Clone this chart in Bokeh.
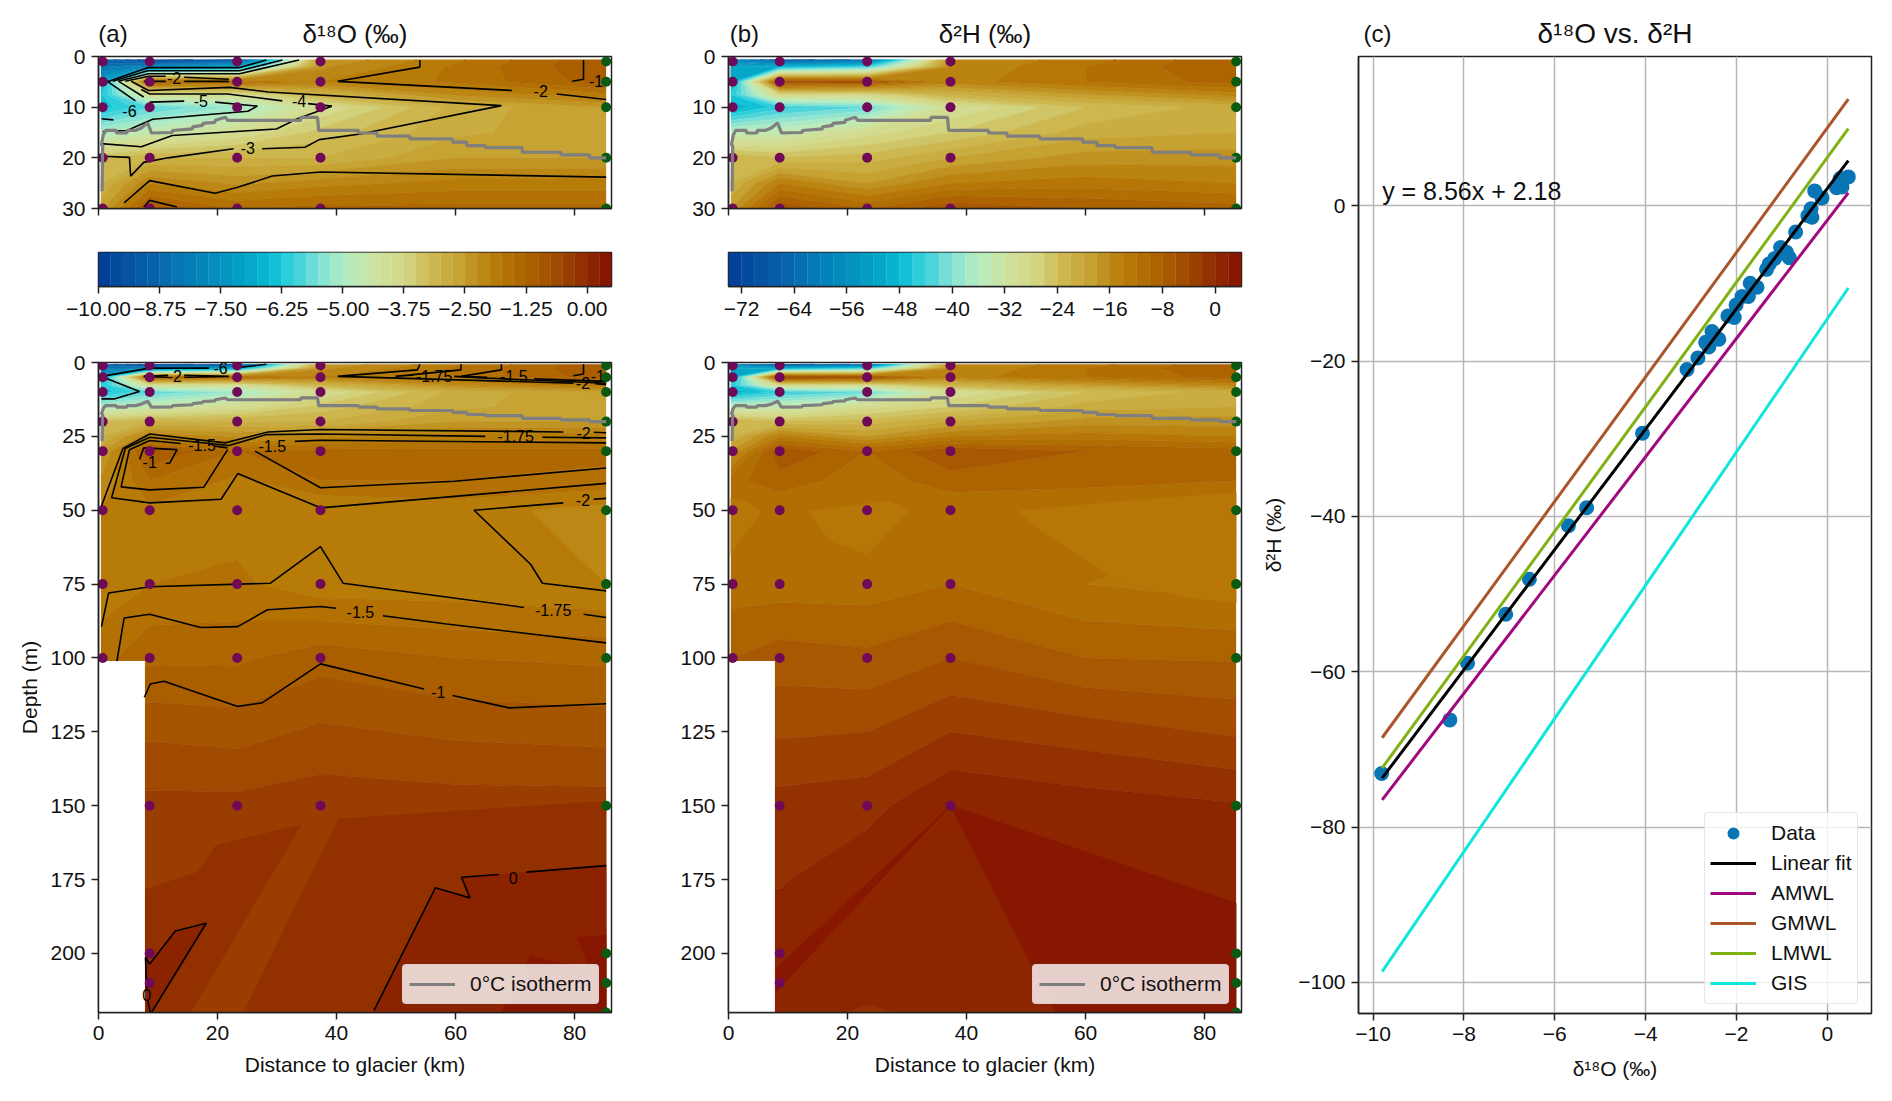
import numpy as np
from bokeh.embed import file_html
from bokeh.resources import INLINE
from bokeh.plotting import figure
from bokeh.layouts import row, column
from bokeh.models import Range1d, FixedTicker, Label, Legend, LegendItem, LinearAxis
from bokeh.core.properties import value

FONT = "Liberation Sans"

# ---------- gridded fields ----------
grid_x = [0.4, 8.6, 23.3, 37.3, 60.0, 85.3]
grid_y = [0.6, 2, 5, 7.5, 10, 15, 20, 25, 30, 40, 50, 75, 100, 125, 150, 175, 200, 210, 220]

d18O = [
    [-9.0, -10.0, -9.5, -2.5, -1.8, -1.0],
    [-8.5, -8.0, -7.0, -2.3, -1.7, -1.0],
    [-7.0, -1.3, -1.5, -2.0, -1.7, -1.1],
    [-6.3, -4.0, -4.0, -3.0, -2.2, -1.8],
    [-6.4, -5.8, -5.2, -4.0, -2.9, -2.5],
    [-5.0, -4.6, -4.0, -3.4, -2.8, -2.6],
    [-3.3, -3.0, -3.0, -3.0, -2.5, -2.5],
    [-3.0, -2.0, -2.3, -2.1, -1.9, -1.9],
    [-2.6, -1.0, -1.5, -1.4, -1.4, -1.4],
    [-2.2, -1.5, -1.8, -1.5, -1.5, -1.6],
    [-2.0, -1.8, -1.85, -2.0, -1.9, -2.1],
    [-1.9, -1.75, -1.7, -1.9, -1.9, -2.0],
    [-1.6, -1.3, -1.3, -1.1, -1.25, -1.3],
    [-0.8, -0.8, -0.85, -0.7, -0.8, -0.85],
    [-0.42, -0.42, -0.42, -0.35, -0.38, -0.38],
    [-0.3, -0.3, -0.3, -0.3, -0.3, -0.3],
    [-0.3, -0.3, -0.3, -0.3, -0.3, -0.3],
    [-0.3, -0.3, -0.3, -0.3, -0.3, -0.3],
    [-0.3, -0.3, -0.3, -0.3, -0.3, -0.3],
]

a_deep_bands = [
    (39, [7.8, 16.6, 19.8, 34.0, 15.5, 7.8], [178.4, 172.5, 163.4, 156.5, 220, 220]),
    (39, [40.3, 85.3, 85.3, 24.4], [154.5, 148.5, 220, 220]),
    (40, [46.3, 56.6, 62.4, 61.0, 67.3, 85.3, 85.3], [220, 177.8, 181.2, 174.2, 173.3, 170.3, 220]),
    (40, [7.9, 8.6, 12.9, 18.1, 8.9, 7.9], [201.3, 203.6, 192.4, 189.8, 220, 220]),
    (41, [80.5, 85.3, 85.3, 67.7, 72.6, 77.0, 82.5], [194.6, 193.8, 220, 220, 200.8, 203, 205]),
]

d2H = [
    [-60, -70, -65, -16, -13, -8],
    [-52, -50, -45, -16, -12, -8],
    [-52, -5, -6, -15, -12, -9],
    [-46, -28, -28, -22, -18, -15],
    [-50, -45, -42, -30, -24, -21],
    [-35, -34, -29, -26, -21, -20],
    [-22, -24, -23, -20, -17, -17],
    [-22, -14, -18, -14, -13, -14],
    [-18, -6, -10, -6, -8, -9],
    [-10.5, -9, -11, -9, -9.5, -10],
    [-11.5, -11.5, -11.5, -11.5, -11.5, -11.5],
    [-11, -11, -11, -10, -12, -13],
    [-8, -7, -7.5, -6, -8, -8.2],
    [-4.3, -4.3, -4, -2, -3, -4.3],
    [-1.2, -1.2, -0.7, 1.9, 1.0, 0.2],
    [-0.2, -0.2, 1.5, 1.7, 1.9, 1.6],
    [1.4, 1.4, 1.0, 1.0, 1.9, 1.9],
    [1.7, 1.7, 0.9, 0.8, 1.9, 1.9],
    [1.0, 1.0, -0.3, 0.6, 1.5, 1.9],
]

b_bands = [
    (38, [37.3, 85.3, 85.3, 55.0], [150, 183, 220, 220]),
    (38, [37.3, 8.0, 8.0], [150, 205, 213]),
    (30, [13.6, 27.0, 30.3, 23.3, 17.0], [50.2, 46.8, 50.2, 64.9, 60.4]),
    (30, [48.7, 52.4, 66.0, 77.2, 85.3, 85.3, 67.0], [50.2, 57, 74.5, 79.6, 81.3, 44, 46.8]),
    (30, [0.4, 3.0, 5.6, 0.4], [46, 47, 50.2, 65]),
]

# ---------- sampling stations ----------
shallow_depths = [1, 5, 10, 20, 30, 50, 75, 100]
st_x = [0.7, 8.6, 23.3, 37.3]
st_depths = [shallow_depths,
             shallow_depths + [150, 200, 210],
             shallow_depths + [150],
             shallow_depths + [150]]
far_x = 85.3
far_depths = shallow_depths + [150, 200, 210, 220]

# ---------- bathymetry mask ----------
mask_left, mask_right, mask_top, mask_bottom = 0.0, 7.8, 101.0, 220.0

# ---------- 0 degC isotherm ----------
iso_x = [0.6, 0.7, 0.5, 0.8, 1.2, 3.0, 3.0, 4.8, 4.8, 6.2, 7.2, 8.25, 8.9, 12.4, 12.4, 15.8, 15.8, 17.5, 17.5, 19.6, 19.6,
         21.3, 21.7, 34.0, 34.0, 36.8, 37.0, 43.7, 43.7, 46.8, 46.8, 52.3, 52.3, 59.5, 59.5, 61.9, 61.9, 65.0, 65.0,
         71.2, 71.2, 77.7, 77.7, 82.5, 82.5, 85.3]
iso_y = [26.6, 17.6, 17.4, 15.5, 14.6, 14.6, 15.1, 15.1, 14.6, 14.6, 14.1, 13.1, 15.1, 15.0, 14.6, 14.3, 13.9, 13.6, 13.2, 13.0, 12.6,
         12.0, 12.6, 12.6, 12.0, 12.0, 14.6, 14.6, 15.1, 15.1, 15.7, 15.7, 16.25, 16.25, 16.9, 16.9, 17.6, 17.6, 18.0,
         18.0, 18.9, 18.9, 19.4, 19.4, 20.0, 20.0]

# ---------- contour lines, (a) upper panel (x, depth) ----------
top_lines = [
    [(1.5, 5), (8.25, 2.2), (23.6, 2.2), (28.2, 0.7)],
    [(2.4, 4.9), (8.25, 2.8), (23.7, 2.8), (30.9, 0.7)],
    [(3.3, 4.9), (8.4, 3.4), (23.7, 3.4), (33.7, 0.7)],
    [(4.5, 4.9), (8.4, 3.9), (11.3, 3.9)],
    [(14.4, 4.1), (21.9, 4.5)],
    [(7.6, 4.9), (11.3, 4.9)],
    [(14.4, 4.9), (21.9, 4.9)],
    [(0.7, 5), (1.5, 4.9), (6.2, 8.75)],
    [(3.4, 4.9), (7.6, 8.0)],
    [(5.5, 4.9), (8.4, 6.7), (22, 6.1), (28.5, 7), (67.7, 9.7), (44, 15.3), (37.1, 16.4), (34.7, 17.9), (27.5, 18.2)],
    [(22.7, 18.2), (11.7, 20), (7.6, 20.9), (5.4, 23.6), (5.2, 19.9), (0.7, 19.7)],
    [(7.2, 6.5), (8.6, 7.4), (21.7, 7.4), (30.9, 8.75)],
    [(35.2, 9.3), (39.2, 9.8), (33.4, 12.3), (29.9, 14.3), (12.4, 15.6), (7.2, 17.8), (0.4, 17.2)],
    [(8.6, 9), (14.4, 8.8)],
    [(19.6, 9), (26.7, 9.8), (25.1, 10.8), (9.1, 12.4), (4.8, 14.6), (0.7, 14.8)],
    [(0.5, 12.3), (2.5, 12.5)],
    [(54, 0.7), (54, 2.1), (40.2, 4.9), (69.5, 6.7)],
    [(77, 7.4), (85.3, 8.5)],
    [(81.5, 0.7), (81.5, 4.5), (79.6, 4.9)],
    [(85.3, 23.8), (37.3, 22.8), (29.2, 23.6), (23.4, 25.8), (19.6, 27), (8.6, 24.5), (4.3, 28.9)],
    [(7.6, 29.7), (8.6, 28.4), (13.2, 29.7)],
]
top_label_x = [12.7, 74.3, 33.7, 25.1, 83.6, 17.2, 5.2]
top_label_y = [4.3, 6.9, 8.75, 18.0, 4.9, 8.8, 10.7]
top_label_t = ["-2", "-2", "-4", "-3", "-1", "-5", "-6"]

# ---------- contour lines, (a) lower panel ----------
bot_lines = [
    [(0.5, 4.7), (8.6, 1.9), (18.6, 1.9)],
    [(22.7, 1.9), (28.2, 0.6)],
    [(0.5, 4.7), (6.9, 9.8), (2.75, 12.3), (0.5, 12.3)],
    [(7.6, 4.7), (11.7, 4.3)],
    [(7.6, 4.7), (11.7, 5.0)],
    [(14.4, 4.3), (21.9, 4.7), (14.4, 5.0)],
    [(54, 0.6), (53.6, 2.5), (40.2, 4.7), (79.8, 7)],
    [(83.5, 7.2), (85.3, 7.5)],
    [(60.9, 0.6), (60.9, 2.5), (49.9, 4.7), (53, 4.2)],
    [(59.8, 4.7), (65.3, 5.3), (85.3, 7)],
    [(67.7, 0.6), (67.7, 2.5), (60.9, 4.7), (65.3, 5)],
    [(73.2, 5.5), (85.3, 6.4)],
    [(81.5, 0.6), (81.5, 3.9), (79.8, 4.5)],
    [(85.3, 23.8), (83.2, 23.6)],
    [(78.1, 23.5), (37.3, 22.7), (28.5, 23.5), (21.3, 27.2), (8.6, 24.2), (4.1, 29.1), (0.5, 48.6)],
    [(85.3, 25.5), (74.6, 25.3)],
    [(65, 25), (37.3, 24.2), (28.2, 24.4), (21.9, 28.1), (8.6, 25.3), (4.5, 29.1), (2.2, 45.8), (8.6, 47.5), (20.6, 46.3),
     (23.4, 37.6), (37.3, 49.2), (85.3, 40.9)],
    [(85.3, 27.2), (37.3, 26.3), (33, 26.7)],
    [(26.3, 30), (37.3, 42.4), (59.8, 40.2), (85.3, 35.7)],
    [(21.7, 29.5), (17.7, 42.2), (8.6, 43.1), (3.8, 42.1), (5.2, 29.5), (8.6, 26.4), (13.8, 27.4)],
    [(19.6, 28.3), (21.7, 28.9)],
    [(6.9, 32.8), (7.6, 28.9), (13.2, 29.5), (12, 34), (11.3, 34.2)],
    [(85.3, 46), (83.2, 46.3)],
    [(78.1, 47.5), (63.1, 50), (72.6, 68.3), (74.6, 74.7), (85.3, 77.3)],
    [(0.5, 89.4), (1.7, 78), (8.6, 75.9), (28.9, 74.7), (37.3, 62.3), (41.1, 74.7), (71.5, 82.9)],
    [(81.5, 85.2), (85.3, 86.3)],
    [(3.1, 101.1), (4.3, 86.5), (8.6, 85.2), (17.2, 89.7), (23.4, 89.4), (28.4, 83.7), (37.3, 82.6), (39.9, 83.2)],
    [(47.8, 85.7), (58.5, 88.5), (85.3, 94.9)],
    [(7.7, 113.3), (8.7, 108.8), (11, 107.9), (23.4, 116.4), (27.5, 115.2), (37.3, 102), (54.7, 110.5)],
    [(59.5, 112.7), (69, 116.9), (85.3, 115.5)],
    [(46.3, 219.3), (56.6, 177.8), (62.4, 181.2), (61, 174.2), (67.3, 173.3)],
    [(71.9, 172.5), (85.3, 170.3)],
    [(7.9, 201.3), (8.6, 203.6), (12.9, 192.4), (18.1, 189.8), (8.9, 220)],
    [(7.9, 201.3), (8.1, 212)],
    [(8.3, 216), (8.7, 220)],
]
bot_label_x = [20.5, 12.8, 56.4, 69.8, 81.4, 83.9, 70.1, 81.5, 17.4, 29.2, 8.6, 81.4, 76.4, 44, 57.1, 69.7, 8.1]
bot_label_y = [1.9, 4.7, 4.7, 4.7, 7.0, 4.7, 25.0, 23.7, 27.9, 28.2, 33.6, 46.6, 83.9, 84.5, 111.5, 174.4, 214]
bot_label_t = ["-6", "-2", "-1.75", "-1.5", "-2", "-1", "-1.75", "-2", "-1.5", "-1.5", "-1", "-2", "-1.75", "-1.5", "-1", "0", "0"]

# ---------- panel (c) ----------
scatter_x = [-5.7, -5.3, -4.07, -3.09, -2.85, -2.61, -2.54, -2.39, -2.68, -2.19, -2.05, -2.01, -1.88, -1.74, -1.7, -1.55,
             -1.34, -1.28, -1.16, -1.03, -0.9, -0.84, -0.7, -0.43, -0.34, -0.36, -0.28, -0.12, 0.2, 0.32, 0.28, 0.46,
             -6.56, -7.08, -7.92, -8.31, -9.81]
scatter_y = [-41.2, -38.9, -29.3, -21.1, -19.6, -18.2, -16.2, -17.2, -17.6, -14.2, -14.4, -12.8, -11.7, -11.7, -10, -10.5,
             -8.2, -7.5, -6.8, -5.4, -6, -6.7, -3.4, -1.3, -1.5, -0.4, 1.9, 1, 2.3, 2.4, 3.5, 3.7,
             -48.1, -52.6, -58.9, -66.2, -73.1]
line_ends_x = [-9.8, 0.46]
fit_y = [-73.7, 5.8]
amwl_y = [-76.5, 1.65]
gmwl_y = [-68.5, 13.7]
lmwl_y = [-72.4, 9.9]
gis_y = [-98.6, -10.6]

# ---------- tick labels ----------
cb_a_ticks = [-10, -8.75, -7.5, -6.25, -5, -3.75, -2.5, -1.25, 0]
cb_a_labels = ["−10.00", "−8.75", "−7.50", "−6.25", "−5.00", "−3.75", "−2.50", "−1.25", "0.00"]
cb_b_ticks = [-72, -64, -56, -48, -40, -32, -24, -16, -8, 0]
cb_b_labels = ["−72", "−64", "−56", "−48", "−40", "−32", "−24", "−16", "−8", "0"]
c_x_ticks = [-10, -8, -6, -4, -2, 0]
c_x_labels = ["−10", "−8", "−6", "−4", "−2", "0"]
c_y_ticks = [0, -20, -40, -60, -80, -100]
c_y_labels = ["0", "−20", "−40", "−60", "−80", "−100"]

# ---------- colour map ----------
cmap_pos = [0, .05, .1, .15, .2, .25, .3, .34, .37, .4, .43, .476, .5, .55, .595, .65, .7, .714, .77, .833, .895, .952, 1]
cmap_hex = ["#033a97", "#05509f", "#065fa9", "#0674b3", "#0485bb", "#0495c0", "#05a9ca", "#0bbdd3", "#2ccfdb", "#50d5da",
            "#80e2d6", "#aeeac4", "#bcebb8", "#d0e09a", "#d4d888", "#cdb850", "#c7a535", "#c39c2c", "#b87c08", "#ad6400",
            "#a04800", "#8e2a00", "#851000"]


def make_palette(n):
    rgb = np.array([[int(h[i:i + 2], 16) for i in (1, 3, 5)] for h in cmap_hex], float)
    f = (np.arange(n) + 0.5) / n
    out = []
    for t in f:
        c = [int(round(np.interp(t, cmap_pos, rgb[:, k]))) for k in range(3)]
        out.append("#%02x%02x%02x" % tuple(c))
    return out


levels_a = list(np.arange(-10, 0.5001, 0.25))
levels_b = list(np.arange(-74, 4.001, 2.0))
pal_a = make_palette(len(levels_a) - 1)
pal_b = make_palette(len(levels_b) - 1)

AX = "#222222"
TICK = "21px"
XT = [0, 20, 40, 60, 80]


def style(p):
    for ax in p.axis:
        ax.axis_line_color = AX
        ax.axis_line_width = 1.5
        ax.major_tick_line_color = AX
        ax.major_tick_line_width = 1.5
        ax.major_tick_in = 0
        ax.major_tick_out = 7
        ax.minor_tick_line_color = None
        ax.major_label_standoff = 6
        ax.major_label_text_font = FONT
        ax.major_label_text_font_size = TICK
        ax.major_label_text_color = "#111111"
        ax.axis_label_text_font = FONT
        ax.axis_label_text_font_size = TICK
        ax.axis_label_text_font_style = "normal"
        ax.axis_label_text_color = "#111111"
    p.outline_line_color = AX
    p.outline_line_width = 1.5
    p.background_fill_color = "white"
    p.border_fill_color = "white"


def section(w, h, ymax, yticks, z, levels, pal, left, right, top, bottom, xlabels, ylabel=None):
    p = figure(width=left + w + right, height=top + h + bottom, output_backend="svg", toolbar_location=None,
               x_range=Range1d(0, 86.2), y_range=Range1d(ymax, 0), tools="")
    p.min_border_left, p.min_border_right, p.min_border_top, p.min_border_bottom = left, right, top, bottom
    p.grid.visible = False
    p.contour(grid_x, grid_y, np.array(z, float), levels, fill_color=pal, line_color=pal + [pal[-1]], line_width=0.8)
    p.xaxis.ticker = FixedTicker(ticks=XT)
    p.yaxis.ticker = FixedTicker(ticks=yticks)
    if not xlabels:
        p.xaxis.major_label_overrides = {t: "" for t in XT}
    else:
        p.xaxis.axis_label = "Distance to glacier (km)"
        p.xaxis.axis_label_standoff = 10
    if ylabel:
        p.yaxis.axis_label = ylabel
        p.yaxis.axis_label_standoff = 6
    style(p)
    return p


def add_bands(p, bands, pal):
    for k, xs, ys in bands:
        p.patch(xs, ys, fill_color=pal[k], line_color=pal[k], line_width=0.5)


def add_mask(p):
    p.quad(left=[mask_left], right=[mask_right], top=[mask_top], bottom=[mask_bottom], fill_color="white",
           line_color="white", line_width=0)


def add_stations(p):
    for xs, ds in zip(st_x, st_depths):
        p.scatter([xs] * len(ds), ds, size=10, fill_color="#700a58", line_color=None)
    p.scatter([far_x] * len(far_depths), far_depths, size=10, fill_color="#0b5a12", line_color=None)
    return p.line(iso_x, iso_y, line_color="#7f7f7f", line_width=3.2)


def add_lines(p, lines, lx, ly, lt):
    for seg in lines:
        p.line([a for a, _ in seg], [b for _, b in seg], line_color="black", line_width=1.6)
    p.text(lx, ly, text=lt, text_font=value(FONT), text_font_size="16px", text_align="center",
           text_baseline="middle", text_color="black")


def titles(p, tag_x, left_txt, centre_txt, size="26px"):
    # panel letter and title share one row: an unlined axis above the frame carries them
    ax = LinearAxis(ticker=FixedTicker(ticks=[tag_x]), major_label_overrides={tag_x: left_txt},
                    axis_label=centre_txt, axis_label_standoff=-32,
                    axis_line_color=None, major_tick_line_color=None, minor_tick_line_color=None,
                    major_tick_in=0, major_tick_out=0, major_label_standoff=10,
                    major_label_text_font=FONT, major_label_text_font_size="24px", major_label_text_color="#111111",
                    axis_label_text_font=FONT, axis_label_text_font_size=size, axis_label_text_font_style="normal",
                    axis_label_text_color="#111111")
    p.add_layout(ax, "above")


def colorbar(levels, pal, ticks, labels, left, w, right):
    p = figure(width=left + w + right, height=22 + 34 + 54, output_backend="svg", toolbar_location=None,
               x_range=Range1d(levels[0], levels[-1]), y_range=Range1d(0, 1), tools="")
    p.min_border_left, p.min_border_right, p.min_border_top, p.min_border_bottom = left, right, 22, 54
    p.grid.visible = False
    p.quad(left=levels[:-1], right=levels[1:], bottom=0, top=1, fill_color=pal, line_color=pal, line_width=0.3)
    p.xaxis.ticker = FixedTicker(ticks=ticks)
    p.xaxis.major_label_overrides = dict(zip(ticks, labels))
    p.yaxis.visible = False
    style(p)
    p.xaxis.major_label_standoff = 8
    return p


W = 513
LA, RA = 98, 65
LB, RB = 52, 17
LC, RC = 100, 12
TOP = 56
BOT = 72
YT1 = [0, 10, 20, 30]
YT2 = [0, 25, 50, 75, 100, 125, 150, 175, 200]

# (a)
a1 = section(W, 152, 30, YT1, d18O, levels_a, pal_a, LA, RA, TOP, 22, False)
add_lines(a1, top_lines, top_label_x, top_label_y, top_label_t)
add_stations(a1)
titles(a1, 2.44, "(a)", "δ¹⁸O (‰)")
a2 = colorbar(levels_a, pal_a, cb_a_ticks, cb_a_labels, LA, W, RA)
a3 = section(W, 650, 220, YT2, d18O, levels_a, pal_a, LA, RA, 22, BOT, True, ylabel="Depth (m)")
add_bands(a3, a_deep_bands, pal_a)
add_mask(a3)
add_lines(a3, bot_lines, bot_label_x, bot_label_y, bot_label_t)
ra = add_stations(a3)

# (b)
b1 = section(W, 152, 30, YT1, d2H, levels_b, pal_b, LB, RB, TOP, 22, False)
add_stations(b1)
titles(b1, 2.67, "(b)", "δ²H (‰)")
b2 = colorbar(levels_b, pal_b, cb_b_ticks, cb_b_labels, LB, W, RB)
b3 = section(W, 650, 220, YT2, d2H, levels_b, pal_b, LB, RB, 22, BOT, True)
add_bands(b3, b_bands, pal_b)
add_mask(b3)
rb = add_stations(b3)

extra = {"border_radius": 4} if "border_radius" in Legend.properties() else {}
for fig, rend in ((a3, ra), (b3, rb)):
    lg = Legend(items=[LegendItem(label="0°C isotherm", renderers=[rend])], location=(304, 8),
                label_text_font=FONT, label_text_font_size="21px", background_fill_alpha=0.8,
                border_line_color="#cccccc", margin=0, padding=6, glyph_width=46, glyph_height=26, label_standoff=15,
                label_text_color="#111111", **extra)
    fig.add_layout(lg)

# (c)
c = figure(width=LC + W + RC, height=TOP + 957 + BOT, output_backend="svg", toolbar_location=None,
           x_range=Range1d(-10.32, 0.97), y_range=Range1d(-104, 19.2), tools="")
c.min_border_left, c.min_border_right, c.min_border_top, c.min_border_bottom = LC, RC, TOP, BOT
c.grid.grid_line_color = "#b7b7b7"
c.grid.grid_line_width = 1.5
c.xaxis.ticker = FixedTicker(ticks=c_x_ticks)
c.yaxis.ticker = FixedTicker(ticks=c_y_ticks)
c.xaxis.major_label_overrides = dict(zip(c_x_ticks, c_x_labels))
c.yaxis.major_label_overrides = dict(zip(c_y_ticks, c_y_labels))
c.xaxis.axis_label = "δ¹⁸O (‰)"
c.yaxis.axis_label = "δ²H (‰)"
c.xaxis.axis_label_standoff = 13
c.yaxis.axis_label_standoff = 10
style(c)
r0 = c.scatter(scatter_x, scatter_y, size=15, fill_color="#0a75b5", line_color=None)
r1 = c.line(line_ends_x, fit_y, line_color="black", line_width=3)
r2 = c.line(line_ends_x, amwl_y, line_color="#a2087e", line_width=3)
r3 = c.line(line_ends_x, gmwl_y, line_color="#a9562a", line_width=3)
r4 = c.line(line_ends_x, lmwl_y, line_color="#7fb212", line_width=3)
r5 = c.line(line_ends_x, gis_y, line_color="#12e6dc", line_width=3)
c.add_layout(Label(x=-9.8, y=0.1, text="y = 8.56x + 2.18", text_font=FONT, text_font_size="25px", text_color="#111111"))
titles(c, -9.9, "(c)", "δ¹⁸O vs. δ²H", "28px")
lg = Legend(items=[LegendItem(label=t, renderers=[r]) for t, r in
                   (("Data", r0), ("Linear fit", r1), ("AMWL", r2), ("GMWL", r3), ("LMWL", r4), ("GIS", r5))],
            location=(346, 9), label_text_font=FONT, label_text_font_size="21px", background_fill_alpha=0.8,
            border_line_color="#cccccc", margin=0, padding=5, spacing=0, glyph_width=46, glyph_height=30,
            label_standoff=15, label_text_color="#111111", **extra)
c.add_layout(lg)

page = row(column(a1, a2, a3), column(b1, b2, b3), c)
open("out.html", "w").write(file_html(page, INLINE))
